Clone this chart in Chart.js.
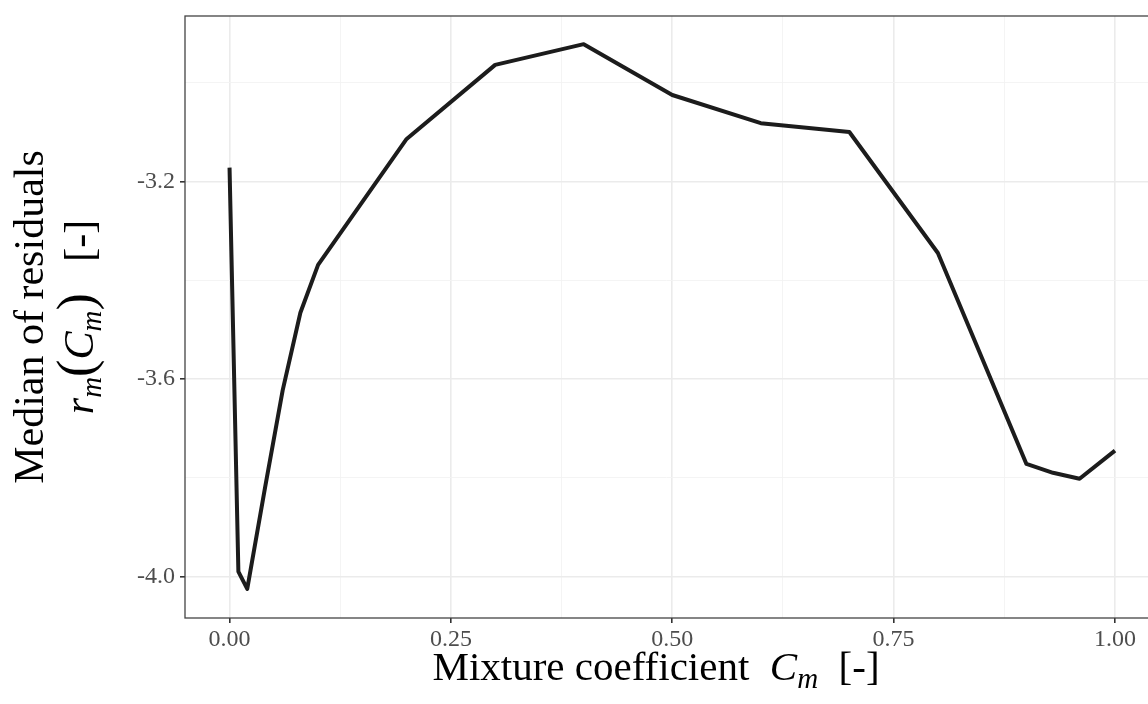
<!DOCTYPE html>
<html>
<head>
<meta charset="utf-8">
<script src="https://cdn.jsdelivr.net/npm/chart.js@4.4.1/dist/chart.umd.min.js"></script>
<style>
  html, body { margin: 0; padding: 0; background: #fff; }
  #wrap { width: 1148px; height: 704px; position: relative; }
</style>
</head>
<body>
<div id="wrap"><canvas id="chart"></canvas></div>
<script>
// mixture coefficient C_m and median of residuals r_m(C_m)
const cm = [0, 0.01, 0.02, 0.04, 0.06, 0.08, 0.1, 0.2, 0.3, 0.4, 0.5, 0.6, 0.7, 0.8, 0.9, 0.93, 0.96, 1.0];
const residuals = [-3.172, -3.99, -4.025, -3.821, -3.623, -3.466, -3.369, -3.114, -2.964, -2.922, -3.025, -3.082, -3.100, -3.345, -3.772, -3.790, -3.802, -3.745];

const xMajor = [0, 0.25, 0.5, 0.75, 1.0];
const xMinor = [0.125, 0.375, 0.625, 0.875];
const xTickLabels = ["0.00", "0.25", "0.50", "0.75", "1.00"];
const yMajor = [-4.0, -3.6, -3.2];
const yMinor = [-3.8, -3.4, -3.0];
const yTickLabels = ["-4.0", "-3.6", "-3.2"];

const serif = '"Liberation Serif", "Times New Roman", serif';

function isMajor(list, v) {
  return list.some(m => Math.abs(m - v) < 1e-9);
}

function richWidth(ctx, segs) {
  let w = 0;
  segs.forEach(s => {
    ctx.font = (s.i ? 'italic ' : '') + s.s + 'px ' + serif;
    w += ctx.measureText(s.t).width;
  });
  return w;
}

function drawRich(ctx, segs, x, y, rotate) {
  ctx.save();
  ctx.translate(x, y);
  if (rotate) ctx.rotate(-Math.PI / 2);
  ctx.fillStyle = '#000';
  ctx.textBaseline = 'alphabetic';
  ctx.textAlign = 'left';
  let cx = -richWidth(ctx, segs) / 2;
  segs.forEach(s => {
    ctx.font = (s.i ? 'italic ' : '') + s.s + 'px ' + serif;
    ctx.fillText(s.t, cx, s.dy || 0);
    cx += ctx.measureText(s.t).width;
  });
  ctx.restore();
}

// panel border + axis titles (plotmath style, italic with subscripts)
const decor = {
  id: 'decor',
  afterDraw(chart) {
    const ctx = chart.ctx;
    const a = chart.chartArea;
    ctx.save();
    ctx.strokeStyle = '#444';
    ctx.lineWidth = 1.3;
    ctx.strokeRect(a.left, a.top, 1159 - a.left, a.bottom - a.top);
    ctx.restore();

    const midY = (a.top + a.bottom) / 2;
    drawRich(ctx, [{t: 'Median of residuals', s: 42}], 43, midY, true);
    drawRich(ctx, [
      {t: 'r', s: 42, i: true},
      {t: 'm', s: 29, i: true, dy: 8},
      {t: '(', s: 52},
      {t: 'C', s: 42, i: true},
      {t: 'm', s: 29, i: true, dy: 8},
      {t: ')', s: 52},
      {t: '   [-]', s: 42}
    ], 93, midY, true);

    drawRich(ctx, [
      {t: 'Mixture coefficient  ', s: 41},
      {t: 'C', s: 41, i: true},
      {t: 'm', s: 29, i: true, dy: 8},
      {t: '  [-]', s: 41}
    ], 656, 680, false);
  }
};

new Chart(document.getElementById('chart'), {
  type: 'line',
  data: {
    datasets: [{
      data: cm.map((x, i) => ({x: x, y: residuals[i]})),
      borderColor: '#1c1c1c',
      borderWidth: 4,
      pointRadius: 0,
      tension: 0,
      fill: false,
      borderJoinStyle: 'round'
    }]
  },
  options: {
    responsive: true,
    maintainAspectRatio: false,
    animation: false,
    layout: { padding: { top: 16, right: 0, left: 0, bottom: 0 } },
    plugins: {
      legend: { display: false },
      tooltip: { enabled: false }
    },
    scales: {
      x: {
        type: 'linear',
        min: -0.0503,
        max: 1.0373,
        afterBuildTicks: s => { s.ticks = xMajor.concat(xMinor).sort((p, q) => p - q).map(v => ({value: v})); },
        afterFit: s => { s.height = 86; s.paddingLeft = 0; s.paddingRight = 0; },
        border: { display: false },
        grid: {
          drawTicks: true,
          tickLength: 5,
          color: c => isMajor(xMajor, c.tick.value) ? '#ebebeb' : '#f3f3f3',
          lineWidth: c => isMajor(xMajor, c.tick.value) ? 1.6 : 0.9,
          tickColor: c => isMajor(xMajor, c.tick.value) ? '#333' : 'rgba(0,0,0,0)'
        },
        ticks: {
          autoSkip: false,
          maxRotation: 0,
          padding: 2,
          color: '#4d4d4d',
          font: { family: serif, size: 24 },
          callback: v => { const i = xMajor.findIndex(m => Math.abs(m - v) < 1e-9); return i >= 0 ? xTickLabels[i] : ''; }
        }
      },
      y: {
        type: 'linear',
        min: -4.084,
        max: -2.865,
        afterBuildTicks: s => { s.ticks = yMajor.concat(yMinor).sort((p, q) => p - q).map(v => ({value: v})); },
        afterFit: s => { s.width = 185; s.paddingTop = 0; s.paddingBottom = 0; },
        border: { display: false },
        grid: {
          drawTicks: true,
          tickLength: 5,
          color: c => isMajor(yMajor, c.tick.value) ? '#ebebeb' : '#f3f3f3',
          lineWidth: c => isMajor(yMajor, c.tick.value) ? 1.6 : 0.9,
          tickColor: c => isMajor(yMajor, c.tick.value) ? '#333' : 'rgba(0,0,0,0)'
        },
        ticks: {
          autoSkip: false,
          padding: 5,
          color: '#4d4d4d',
          font: { family: serif, size: 24 },
          callback: v => { const i = yMajor.findIndex(m => Math.abs(m - v) < 1e-9); return i >= 0 ? yTickLabels[i] : ''; }
        }
      }
    }
  },
  plugins: [decor]
});
</script>
</body>
</html>
